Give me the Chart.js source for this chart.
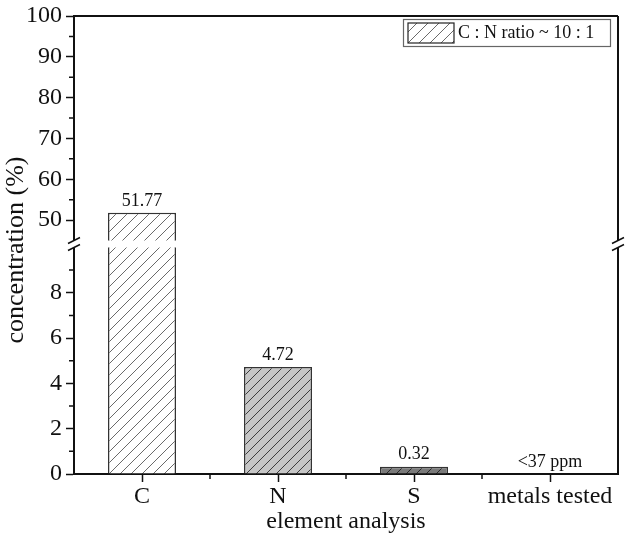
<!DOCTYPE html>
<html>
<head>
<meta charset="utf-8">
<script src="https://cdn.jsdelivr.net/npm/chart.js@4/dist/chart.umd.min.js"></script>
<style>
  html, body { margin: 0; padding: 0; background: #fff; }
  #box { width: 629px; height: 536px; }
</style>
</head>
<body>
<div id="box"><canvas id="chart1"></canvas></div>
<script>
const categories = ['C', 'N', 'S', 'metals tested'];
const concentration = [51.77, 4.72, 0.32, null];
const valueLabels = ['51.77', '4.72', '0.32', '<37 ppm'];
const highTicks = [50, 60, 70, 80, 90, 100];
const highMinor = [55, 65, 75, 85, 95];
const lowTicks = [0, 2, 4, 6, 8];
const lowMinor = [1, 3, 5, 7, 9];
const legendText = 'C : N ratio ~ 10 : 1';

const serif = '"Liberation Serif", "DejaVu Serif", serif';
const GAP = 3.5;

function hatch(bg, line, step) {
  const c = document.createElement('canvas');
  c.width = step; c.height = step;
  const g = c.getContext('2d');
  g.fillStyle = bg;
  g.fillRect(0, 0, step, step);
  g.strokeStyle = line;
  g.lineWidth = 1;
  g.beginPath();
  g.moveTo(0, step); g.lineTo(step, 0);
  g.moveTo(-step / 2, step / 2); g.lineTo(step / 2, -step / 2);
  g.moveTo(step / 2, step * 1.5); g.lineTo(step * 1.5, step / 2);
  g.stroke();
  return g.createPattern(c, 'repeat');
}

const ctx = document.getElementById('chart1').getContext('2d');
const fills = [hatch('#ffffff', '#6a6a6a', 11), hatch('#c6c6c6', '#3c3c3c', 10), hatch('#7a7a7a', '#2a2a2a', 10), '#fff'];

// clip every dataset to its own y scale, leaving the break gap open
const clipPlugin = {
  id: 'clipToScale',
  beforeDatasetDraw(chart, args) {
    const s = chart.scales[args.meta.yAxisID];
    const a = chart.chartArea;
    const top = s.id === 'yLow' ? s.top + GAP : s.top - 2;
    const bottom = s.id === 'yHigh' ? s.bottom - GAP : s.bottom + 2;
    chart.ctx.save();
    chart.ctx.beginPath();
    chart.ctx.rect(a.left, top, a.right - a.left, bottom - top);
    chart.ctx.clip();
  },
  afterDatasetDraw(chart) {
    chart.ctx.restore();
  }
};

const extrasPlugin = {
  id: 'extras',
  afterDraw(chart) {
    const c = chart.ctx;
    const a = chart.chartArea;
    const x = chart.scales.x, hi = chart.scales.yHigh, lo = chart.scales.yLow;
    c.save();
    c.strokeStyle = '#111';
    c.lineWidth = 2;
    // top and right frame
    c.beginPath();
    c.moveTo(a.left, a.top); c.lineTo(a.right, a.top);
    c.moveTo(a.right, a.top); c.lineTo(a.right, a.bottom);
    c.stroke();
    // minor ticks
    c.lineWidth = 1.5;
    c.beginPath();
    highMinor.forEach(v => { const p = hi.getPixelForValue(v); c.moveTo(a.left - 5, p); c.lineTo(a.left, p); });
    lowMinor.forEach(v => { const p = lo.getPixelForValue(v); c.moveTo(a.left - 5, p); c.lineTo(a.left, p); });
    for (let i = 0; i < categories.length - 1; i++) {
      const p = (x.getPixelForValue(i) + x.getPixelForValue(i + 1)) / 2;
      c.moveTo(p, a.bottom); c.lineTo(p, a.bottom + 5);
    }
    c.stroke();
    // axis break
    const bTop = hi.bottom - GAP, bBot = lo.top + GAP;
    c.fillStyle = '#fff';
    [a.left, a.right].forEach(px => {
      c.fillRect(px - 2, bTop, 4, bBot - bTop);
      c.beginPath();
      c.moveTo(px - 6, bTop + 3); c.lineTo(px + 6, bTop - 3);
      c.moveTo(px - 6, bBot + 3); c.lineTo(px + 6, bBot - 3);
      c.stroke();
    });
    // value labels
    c.fillStyle = '#111';
    c.font = '18px ' + serif;
    c.textAlign = 'center';
    c.textBaseline = 'bottom';
    const highMeta = chart.getDatasetMeta(0), lowMeta = chart.getDatasetMeta(1);
    valueLabels.forEach((t, i) => {
      let y;
      if (i === 0) y = highMeta.data[0].y;
      else if (concentration[i] != null) y = lowMeta.data[i].y;
      else y = lo.getPixelForValue(0);
      c.fillText(t, x.getPixelForValue(i), y - 3);
    });
    // y title
    c.font = '26px ' + serif;
    c.textBaseline = 'middle';
    c.translate(16, 250);
    c.rotate(-Math.PI / 2);
    c.fillText('concentration (%)', 0, 0);
    c.restore();
    // legend
    c.save();
    const lx = 403, ly = 19, lw = 207, lh = 27;
    c.fillStyle = '#fff';
    c.fillRect(lx, ly, lw, lh);
    c.strokeStyle = '#666';
    c.lineWidth = 1.2;
    c.strokeRect(lx + 0.5, ly + 0.5, lw, lh);
    c.fillStyle = fills[0];
    c.fillRect(lx + 5, ly + 4, 46, 20);
    c.strokeStyle = '#222';
    c.lineWidth = 1.2;
    c.strokeRect(lx + 5, ly + 4, 46, 20);
    c.fillStyle = '#111';
    c.font = '18px ' + serif;
    c.textBaseline = 'middle';
    c.fillText(legendText, lx + 55, ly + lh / 2 + 1);
    c.restore();
  }
};

const yTicks = { color: '#111', font: { family: serif, size: 24, lineHeight: 1 }, padding: 4, autoSkip: false };
const yGrid = { drawOnChartArea: false, tickLength: 8, tickColor: '#111', tickWidth: 1.5 };

new Chart(ctx, {
  type: 'bar',
  data: {
    labels: categories,
    datasets: [
      {
        label: legendText,
        yAxisID: 'yHigh',
        data: concentration.map((v, i) => i === 0 ? v : null),
        backgroundColor: fills,
        borderColor: '#333',
        borderWidth: 1.5,
        barPercentage: 0.5,
        categoryPercentage: 1,
        grouped: false
      },
      {
        label: 'low',
        yAxisID: 'yLow',
        data: concentration,
        backgroundColor: fills,
        borderColor: '#333',
        borderWidth: 1.5,
        barPercentage: 0.5,
        categoryPercentage: 1,
        grouped: false
      }
    ]
  },
  options: {
    responsive: true,
    maintainAspectRatio: false,
    animation: false,
    layout: { padding: { top: 14, right: 11, left: 0, bottom: 0 } },
    plugins: { legend: { display: false }, tooltip: { enabled: false } },
    scales: {
      x: {
        offset: true,
        grid: { offset: false, drawOnChartArea: false, tickLength: 8, tickColor: '#111', tickWidth: 1.5 },
        border: { color: '#111', width: 2 },
        ticks: { color: '#111', font: { family: serif, size: 24 }, padding: 0, autoSkip: false, maxRotation: 0 },
        title: { display: true, text: 'element analysis', color: '#111', font: { family: serif, size: 24 }, padding: 0 },
        afterFit(s) { s.height = 62; }
      },
      yHigh: {
        type: 'linear',
        position: 'left',
        stack: 'y',
        stackWeight: 228.5,
        weight: 1,
        min: 44.14,
        max: 100,
        afterBuildTicks(s) { s.ticks = highTicks.map(v => ({ value: v })); },
        grid: yGrid,
        border: { color: '#111', width: 2 },
        ticks: yTicks,
        afterFit(s) { s.width = 74; }
      },
      yLow: {
        type: 'linear',
        position: 'left',
        stack: 'y',
        stackWeight: 230.5,
        weight: 0,
        min: 0,
        max: 10.15,
        afterBuildTicks(s) { s.ticks = lowTicks.map(v => ({ value: v })); },
        grid: yGrid,
        border: { color: '#111', width: 2 },
        ticks: yTicks,
        afterFit(s) { s.width = 74; }
      }
    }
  },
  plugins: [clipPlugin, extrasPlugin]
});
</script>
</body>
</html>
